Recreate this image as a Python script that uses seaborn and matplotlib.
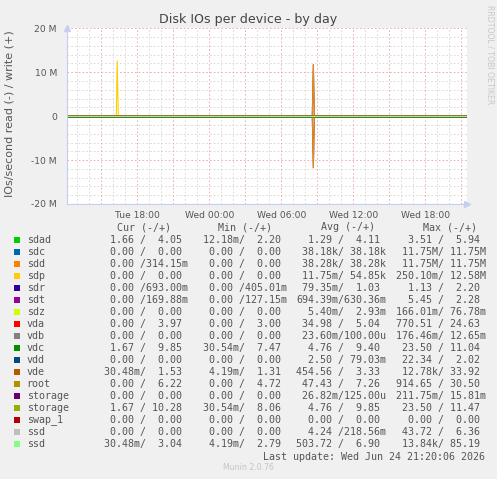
import matplotlib
matplotlib.use("Agg")
import matplotlib.pyplot as plt
from matplotlib.patches import Rectangle
import seaborn as sns
import pandas as pd

W, H = 497, 479

TITLE = "Disk IOs per device - by day"
YLABEL = "IOs/second read (-) / write (+)"

DEVICES = ["sdad", "sdc", "sdd", "sdp", "sdr", "sdt", "sdz", "vda", "vdb", "vdc",
           "vdd", "vde", "root", "storage", "storage", "swap_1", "ssd", "ssd"]
COLORS = ["#00CC00", "#0066B3", "#FF8000", "#FFCC00", "#330099", "#990099", "#CCFF00",
          "#FF0000", "#808080", "#008F00", "#00487D", "#B35A00", "#B38F00", "#6B006B",
          "#8FB300", "#B30000", "#BEBEBE", "#80FF80"]

# sample times in hours since Tue 00:00
HOURS = [12.12, 16.25, 16.33, 16.42, 32.58, 32.67, 32.75, 45.47]
# IOs/s at those times (only the visible spikes, everything else is ~0)
READ_SPIKES = {
    1: [0, 0, 0, 0, 0, 11.75e6, 0, 0],   # sdc
    2: [0, 0, 0, 0, 0, 11.75e6, 0, 0],   # sdd
}
WRITE_SPIKES = {
    1: [0, 0, 0, 0, 0, 11.75e6, 0, 0],   # sdc
    2: [0, 0, 0, 0, 0, 11.75e6, 0, 0],   # sdd
    3: [0, 0, 12.58e6, 0, 0, 0, 0, 0],   # sdp
}
FLAT = [0, 0, 0, 0, 0, 0, 0, 0]

XTICKS = [15, 18, 21, 24, 27, 30, 33, 36, 39, 42, 45]
XTICK_LABELS = ["", "Tue 18:00", "", "Wed 00:00", "", "Wed 06:00", "", "Wed 12:00", "", "Wed 18:00", ""]
YTICKS = [-20e6, -10e6, 0, 10e6, 20e6]
YTICK_LABELS = ["-20 M", "-10 M", "0", "10 M", "20 M"]

CUR_R = ["1.66", "0.00", "0.00", "0.00", "0.00", "0.00", "0.00", "0.00", "0.00", "1.67",
         "0.00", "30.48m", "0.00", "0.00", "1.67", "0.00", "0.00", "30.48m"]
CUR_W = ["4.05", "0.00", "314.15m", "0.00", "693.00m", "169.88m", "0.00", "3.97", "0.00", "9.85",
         "0.00", "1.53", "6.22", "0.00", "10.28", "0.00", "0.00", "3.04"]
MIN_R = ["12.18m", "0.00", "0.00", "0.00", "0.00", "0.00", "0.00", "0.00", "0.00", "30.54m",
         "0.00", "4.19m", "0.00", "0.00", "30.54m", "0.00", "0.00", "4.19m"]
MIN_W = ["2.20", "0.00", "0.00", "0.00", "405.01m", "127.15m", "0.00", "3.00", "0.00", "7.47",
         "0.00", "1.31", "4.72", "0.00", "8.06", "0.00", "0.00", "2.79"]
AVG_R = ["1.29", "38.18k", "38.28k", "11.75m", "79.35m", "694.39m", "5.40m", "34.98", "23.60m", "4.76",
         "2.50", "454.56", "47.43", "26.82m", "4.76", "0.00", "4.24", "503.72"]
AVG_W = ["4.11", "38.18k", "38.28k", "54.85k", "1.03", "630.36m", "2.93m", "5.04", "100.00u", "9.40",
         "79.03m", "3.33", "7.26", "125.00u", "9.85", "0.00", "218.56m", "6.90"]
MAX_R = ["3.51", "11.75M", "11.75M", "250.10m", "1.13", "5.45", "166.01m", "770.51", "176.46m", "23.50",
         "22.34", "12.78k", "914.65", "211.75m", "23.50", "0.00", "43.72", "13.84k"]
MAX_W = ["5.94", "11.75M", "11.75M", "12.58M", "2.20", "2.28", "76.78m", "24.63", "12.65m", "11.04",
         "2.02", "33.92", "30.50", "15.81m", "11.47", "0.00", "6.36", "85.19"]

# long table for seaborn
rows = []
for i in range(len(DEVICES)):
    reads = READ_SPIKES.get(i, FLAT)
    writes = WRITE_SPIKES.get(i, FLAT)
    for h, r, w in zip(HOURS, reads, writes):
        rows.append({"hour": h, "value": -r, "key": f"{i:02d}", "dir": "read"})
        rows.append({"hour": h, "value": w, "key": f"{i:02d}", "dir": "write"})
df = pd.DataFrame(rows)
palette = {f"{i:02d}": c for i, c in enumerate(COLORS)}

sns.set_style("white")
plt.rcParams["font.family"] = ["DejaVu Sans"]
plt.rcParams["lines.scale_dashes"] = False

fig = plt.figure(figsize=(W / 100, H / 100), dpi=100, facecolor="#F0F0F0")
L, R, T, B = 66.7, 467, 28.3, 204
ax = fig.add_axes([L / W, 1 - B / H, (R - L) / W, (B - T) / H])
ax.set_facecolor("white")

# grid
for h in range(13, 46):
    if h % 3:
        ax.axvline(h, color="#d4d4d4", lw=0.6, dashes=(1.2, 1.5), zorder=0.5)
for h in XTICKS:
    ax.axvline(h, color="#e6a4a4", lw=0.6, dashes=(1.2, 1.5), zorder=0.6)
for v in range(-18, 20, 2):
    if v % 10:
        ax.axhline(v * 1e6, color="#d4d4d4", lw=0.6, dashes=(1.2, 1.5), zorder=0.5)
for v in YTICKS:
    ax.axhline(v, color="#e6a4a4", lw=0.6, dashes=(1.2, 1.5), zorder=0.6)

ax.axhline(0, color="black", lw=1.9, zorder=1.5)

sns.lineplot(data=df, x="hour", y="value", hue="key", units="dir", estimator=None,
             palette=palette, legend=False, linewidth=0.8, sort=False, ax=ax)

ax.set_xlim(HOURS[0], HOURS[-1])
ax.set_ylim(-20e6, 20e6)
ax.set_xticks(XTICKS, XTICK_LABELS)
ax.set_yticks(YTICKS, YTICK_LABELS)
ax.tick_params(axis="both", length=2, width=0.6, color="#e6a4a4", labelsize=6.6,
               labelcolor="#555555", pad=3)
ax.tick_params(axis="y", pad=5)
ax.set_xlabel("")
ax.set_ylabel("")
for side in ["top", "right"]:
    ax.spines[side].set_visible(False)
for side in ["left", "bottom"]:
    ax.spines[side].set_color("#c8ccf2")
    ax.spines[side].set_linewidth(0.8)
ax.plot(0, 1.0, marker="^", ms=4, color="#c8ccf2", transform=ax.transAxes, clip_on=False)
ax.plot(1.0, 0, marker=">", ms=4, color="#c8ccf2", transform=ax.transAxes, clip_on=False)


def ftext(x, y, s, **kw):
    fig.text(x / W, 1 - y / H, s, **kw)


ftext(248, 23.3, TITLE, ha="center", va="baseline", fontsize=9.1, color="#444444")
ftext(10, 113.5, YLABEL, ha="center", va="center", rotation=90, fontsize=8.0, color="#555555")
ftext(490, 5, "RRDTOOL / TOBI OETIKER", ha="center", va="top", rotation=270,
      fontsize=5.6, color="#c8c8c8")

# legend table
mono = dict(family="DejaVu Sans Mono", fontsize=7.2, color="#555555", va="center")


def fld(s):
    return s.rjust(6) + " " if s[-1].isdigit() else s.rjust(7)


ftext(116.7, 227.3, "Cur (-/+)", ha="left", **mono)
ftext(218.0, 227.3, "Min (-/+)", ha="left", **mono)
ftext(321.0, 227.3, "Avg (-/+)", ha="left", **mono)
ftext(422.7, 227.3, "Max (-/+)", ha="left", **mono)

col_x = [97.5, 197.3, 296.5, 396.3]
cols = [(CUR_R, CUR_W), (MIN_R, MIN_W), (AVG_R, AVG_W), (MAX_R, MAX_W)]
for i, name in enumerate(DEVICES):
    y = 240 + 12 * i
    fig.add_artist(Rectangle((14 / W, 1 - (y + 3) / H), 6 / W, 6 / H,
                             transform=fig.transFigure, color=COLORS[i], lw=0))
    ftext(26.7, y, name, ha="left", **mono)
    for cx, (rd, wr) in zip(col_x, cols):
        ftext(cx, y, fld(rd[i]) + "/" + fld(wr[i]), ha="left", **mono)

ftext(485, 456.7, "Last update: Wed Jun 24 21:20:06 2026", ha="right", **mono)
ftext(248, 468, "Munin 2.0.76", ha="center", va="center", fontsize=5.6, color="#c4c4c4")

fig.savefig("out.png", dpi=100, facecolor=fig.get_facecolor())
